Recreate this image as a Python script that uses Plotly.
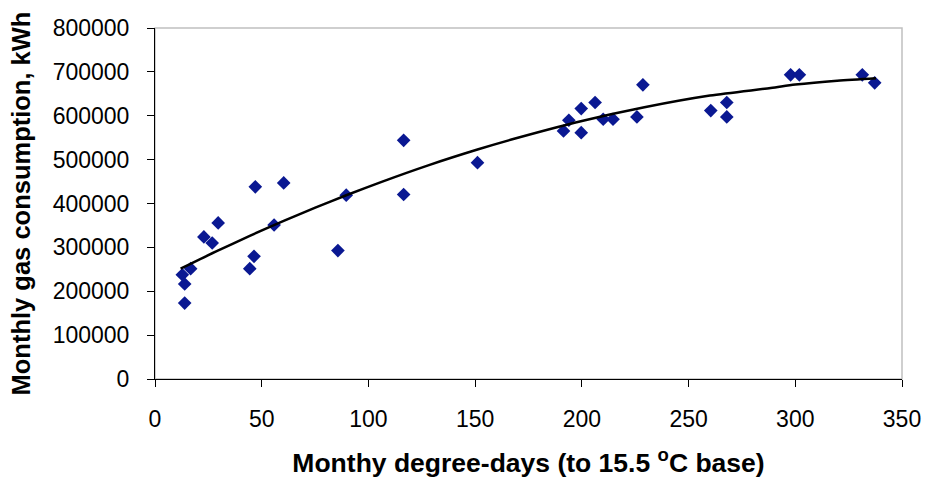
import plotly.graph_objects as go

# Observed data: monthly degree-days vs gas consumption
degree_days = [12.8, 13.9, 13.9, 16.7, 22.9, 26.8, 29.6, 44.4, 46.4, 47.0, 55.8, 60.3,
               85.7, 89.6, 116.5, 116.5, 151.1, 191.4, 193.9, 199.7, 199.7, 206.2,
               210.0, 214.6, 225.8, 228.6, 260.4, 267.9, 267.9, 297.8, 301.9, 331.4, 337.2]
gas_kwh = [237700, 216500, 173000, 251400, 323800, 310000, 355800, 251400, 279600, 438000,
           351000, 447000, 292600, 419000, 544000, 420600, 493000, 565300, 589700, 561500,
           616400, 630100, 592000, 592000, 597300, 670400, 611800, 630100, 597300, 693300,
           693300, 693300, 675000]

# Trend line
trend_x = [12.0, 28.4, 44.4, 60.3, 75.1, 89.6, 106.2, 128.0, 151.1, 167.0, 200.0, 229.3,
           260.0, 288.5, 300.0, 319.6, 337.8]
trend_y = [251400, 290100, 326200, 360300, 390500, 418800, 449400, 487000, 523000, 545700,
           588000, 619300, 646000, 663200, 671000, 680000, 685700]

x_ticks = [0, 50, 100, 150, 200, 250, 300, 350]
y_ticks = [0, 100000, 200000, 300000, 400000, 500000, 600000, 700000, 800000]

FONT = "Liberation Sans, Arial, sans-serif"

fig = go.Figure()
fig.add_trace(go.Scatter(
    x=degree_days, y=gas_kwh, mode="markers",
    marker=dict(symbol="diamond", size=10.5, color="#0a1892",
                line=dict(width=0)),
    showlegend=False, name="Data"))
fig.add_trace(go.Scatter(
    x=trend_x, y=trend_y, mode="lines",
    line=dict(color="black", width=2.5, shape="spline", smoothing=0.8),
    showlegend=False, name="Trend"))

fig.update_layout(
    width=927, height=479,
    margin=dict(l=155, r=25, t=28, b=100),
    paper_bgcolor="white", plot_bgcolor="white",
    font=dict(family=FONT, color="black"),
    shapes=[dict(type="rect", xref="paper", yref="paper", x0=0, y0=0, x1=1, y1=1,
                 line=dict(color="#c0c0c0", width=1.5), layer="below")],
)
fig.update_xaxes(
    range=[0, 350], tickvals=x_ticks, ticktext=[str(v) for v in x_ticks],
    showgrid=False, zeroline=False, showline=True, linecolor="black", linewidth=1,
    ticks="outside", ticklen=7, tickcolor="black", tickwidth=1,
    tickfont=dict(size=23, family=FONT), ticklabelstandoff=12,
    title=dict(text="<b>Monthy degree-days (to 15.5 <sup>o</sup>C base)</b>",
               font=dict(size=26.5, family=FONT), standoff=22),
    automargin=False)
fig.update_yaxes(
    range=[0, 800000], tickvals=y_ticks, ticktext=[str(v) for v in y_ticks],
    showgrid=False, zeroline=False, showline=True, linecolor="black", linewidth=1,
    ticks="outside", ticklen=7, tickcolor="black", tickwidth=1,
    tickfont=dict(size=23, family=FONT), ticklabelstandoff=13,
    title=dict(text="<b>Monthly gas consumption, kWh</b>",
               font=dict(size=25.5, family=FONT), standoff=14),
    automargin=False)

fig.write_html("out.html", config={"displayModeBar": False})
